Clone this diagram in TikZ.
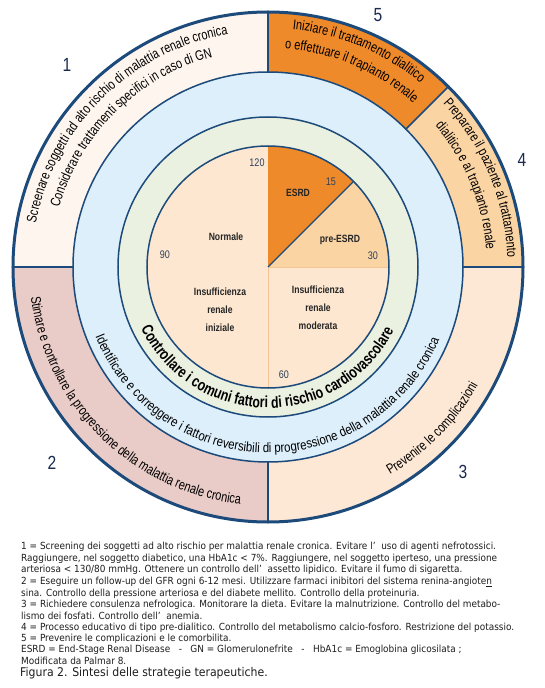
\documentclass[tikz,border=0pt]{standalone}
\usepackage{fontspec}
\setmainfont{Liberation Sans}
\newfontfamily\narrowf[FakeStretch=0.82]{Liberation Sans}
\newfontfamily\outerf[FakeStretch=0.78]{Liberation Sans}
\newfontfamily\bluef[FakeStretch=0.845]{Liberation Sans}
\newfontfamily\greenf[FakeStretch=0.77]{Liberation Sans}
\newfontfamily\capf[FakeStretch=0.91]{DejaVu Sans}
\usetikzlibrary{decorations.text}
\definecolor{navy}{HTML}{1C4A7A}
\definecolor{sone}{HTML}{FEF5EE}
\definecolor{stwo}{HTML}{E9CBC7}
\definecolor{sthree}{HTML}{FDE8D5}
\definecolor{sfour}{HTML}{FBD4A4}
\definecolor{sfive}{HTML}{EF8A2B}
\definecolor{ringblue}{HTML}{DDEFFB}
\definecolor{ringgreen}{HTML}{EBF1E1}
\definecolor{pielight}{HTML}{FDE7D0}
\definecolor{numcol}{HTML}{2B3F5C}
\definecolor{pieline}{HTML}{F4C495}
\definecolor{bignum}{HTML}{1A2A50}
\definecolor{captext}{HTML}{1E1E1E}
\newcommand\ringfont{\outerf\fontsize{14}{16}\selectfont}
\newcommand\bluefont{\bluef\fontsize{13.5}{16}\selectfont}
\newcommand\greenfont{\greenf\bfseries\fontsize{16}{18}\selectfont}
\begin{document}
\begin{tikzpicture}[x=1pt,y=1pt,
  ringtext/.style={decorate, decoration={text along path, text align=center, text={|\ringfont|#1}}},
  bluetext/.style={decorate, decoration={text along path, text align=center, text={|\bluefont|#1}}},
  greentext/.style={decorate, decoration={text along path, text align=center, text={|\greenfont|#1}}},
  sepline/.style={navy, line width=1.5pt},
  pielabel/.style={font=\narrowf\bfseries\fontsize{10.5}{18}\selectfont, align=center, text=black!85},
  pienum/.style={font=\narrowf\fontsize{11}{13}\selectfont, text=numcol},
  secnum/.style={font=\narrowf\fontsize{19}{21}\selectfont, text=bignum},
  capline/.style={font=\capf\fontsize{9.8}{11}\selectfont, text=captext, anchor=base west, inner sep=0pt}]
\useasboundingbox (-268,-421) rectangle (277,267);
\fill[white] (-268,-421) rectangle (277,267);
% outer ring sectors
\fill[sone] (0,0) -- (180:255pt) arc[start angle=180, end angle=90, radius=255pt] -- cycle;
\fill[sfive] (0,0) -- (90:255pt) arc[start angle=90, end angle=45, radius=255pt] -- cycle;
\fill[sfour] (0,0) -- (45:255pt) arc[start angle=45, end angle=0, radius=255pt] -- cycle;
\fill[sthree] (0,0) -- (0:255pt) arc[start angle=0, end angle=-90, radius=255pt] -- cycle;
\fill[stwo] (0,0) -- (270:255pt) arc[start angle=270, end angle=180, radius=255pt] -- cycle;
\foreach \a in {0,45,90,180,270} \draw[sepline] (\a:195pt) -- (\a:255pt);
\fill[ringblue] (0,0) circle[radius=195pt];
\fill[ringgreen] (0,0) circle[radius=150pt];
\draw[sepline] (0,0) circle[radius=195pt];
\draw[sepline] (0,0) circle[radius=150pt];
\draw[navy, line width=3pt] (0,0) circle[radius=255pt];
% pie
\fill[pielight] (0,0) circle[radius=121pt];
\fill[sfive] (0,0) -- (90:121pt) arc[start angle=90, end angle=45, radius=121pt] -- cycle;
\fill[sfour] (0,0) -- (45:121pt) arc[start angle=45, end angle=0, radius=121pt] -- cycle;
\draw[pieline, line width=0.8pt] (0,0) -- (270:121pt);
\draw[pieline, line width=0.8pt] (0,0) -- (0:121pt);
\draw[navy, line width=1.2pt] (0,0) -- (45:121pt);
\draw[sepline] (0,0) circle[radius=121pt];
% pie labels
\node[pielabel] (normale) at (-42,30) {Normale};
\node[pielabel] (esrd) at (30,74) {ESRD};
\node[pielabel] (preesrd) at (72,27) {pre-ESRD};
\node[pielabel] (iniziale) at (-48,-43) {Insufficienza\\renale\\iniziale};
\node[pielabel] (moderata) at (50,-41) {Insufficienza\\renale\\moderata};
\node[pienum] (n120) at (-11,104) {120};
\node[pienum] (n90) at (-103,12) {90};
\node[pienum] (n60) at (16,-108) {60};
\node[pienum] (n30) at (105,11) {30};
\node[pienum] (n15) at (63,85) {15};
% ring texts
\path[greentext={Controllare i comuni fattori di rischio cardiovascolare}] (184.4:141pt) arc[start angle=184.4, end angle=354.4, radius=141pt];
\path[bluetext={Identificare e correggere i fattori reversibili di progressione della malattia renale cronica}] (179.5:186pt) arc[start angle=179.5, end angle=359.5, radius=186pt];
% outer sector texts
\path[ringtext={Screenare soggetti ad alto rischio di malattia renale cronica}] (179.6:236pt) arc[start angle=179.6, end angle=89.6, radius=236pt];
\path[ringtext={Considerare trattamenti specifici in caso di GN}] (179.5:217pt) arc[start angle=179.5, end angle=89.5, radius=217pt];
\path[ringtext={Iniziare il trattamento dialitico}] (97.2:239pt) arc[start angle=97.2, end angle=37.2, radius=239pt];
\path[ringtext={o effettuare il trapianto renale}] (97:219pt) arc[start angle=97, end angle=37, radius=219pt];
\path[ringtext={Preparare il paziente al trattamento}] (52.6:239.5pt) arc[start angle=52.6, end angle=-7.4, radius=239.5pt];
\path[ringtext={dialitico e al trapianto renale}] (52.4:219pt) arc[start angle=52.4, end angle=-7.6, radius=219pt];
\path[ringtext={Stimare e controllare la progressione della malattia renale cronica}] (175.3:239pt) arc[start angle=175.3, end angle=275.3, radius=239pt];
\path[ringtext={Prevenire le complicazioni}] (285.5:241pt) arc[start angle=285.5, end angle=345.5, radius=241pt];
% sector numbers
\node[secnum] (num1) at (-201,202) {1};
\node[secnum] (num5) at (110,252) {5};
\node[secnum] (num4) at (254,107) {4};
\node[secnum] (num2) at (-216,-196) {2};
\node[secnum] (num3) at (195,-205) {3};
% caption
\node[capline] (c1) at (-247,-282.5) {1 = Screening dei soggetti ad alto rischio per malattia renale cronica. Evitare l’\ \ uso di agenti nefrotossici.};
\node[capline] (c2) at (-247,-294.5) {Raggiungere, nel soggetto diabetico, una HbA1c < 7\%. Raggiungere, nel soggetto iperteso, una pressione};
\node[capline] (c3) at (-247,-305.5) {arteriosa < 130/80 mmHg. Ottenere un controllo dell’\ \ assetto lipidico. Evitare il fumo di sigaretta.};
\node[capline] (c4) at (-247,-317.5) {2 = Eseguire un follow-up del GFR ogni 6-12 mesi. Utilizzare farmaci inibitori del sistema renina-angiote\underline{n}};
\node[capline] (c5) at (-247,-329.5) {sina. Controllo della pressione arteriosa e del diabete mellito. Controllo della proteinuria.};
\node[capline] (c6) at (-247,-340.5) {3 = Richiedere consulenza nefrologica. Monitorare la dieta. Evitare la malnutrizione. Controllo del metabo-};
\node[capline] (c7) at (-247,-352.5) {lismo dei fosfati. Controllo dell’\ \ anemia.};
\node[capline] (c8) at (-247,-363.5) {4 = Processo educativo di tipo pre-dialitico. Controllo del metabolismo calcio-fosforo. Restrizione del potassio.};
\node[capline] (c9) at (-247,-374.5) {5 = Prevenire le complicazioni e le comorbilita.};
\node[capline] (c10) at (-247,-385.5) {ESRD = End-Stage Renal Disease \ \ - \ \ GN = Glomerulonefrite \ \ - \ \ HbA1c = Emoglobina glicosilata ;};
\node[capline] (c11) at (-247,-397.5) {Modificata da Palmar 8.};
\node[capline, font=\capf\fontsize{12}{13}\selectfont] (cap) at (-248,-409) {Figura 2. Sintesi delle strategie terapeutiche.};
\end{tikzpicture}
\end{document}
